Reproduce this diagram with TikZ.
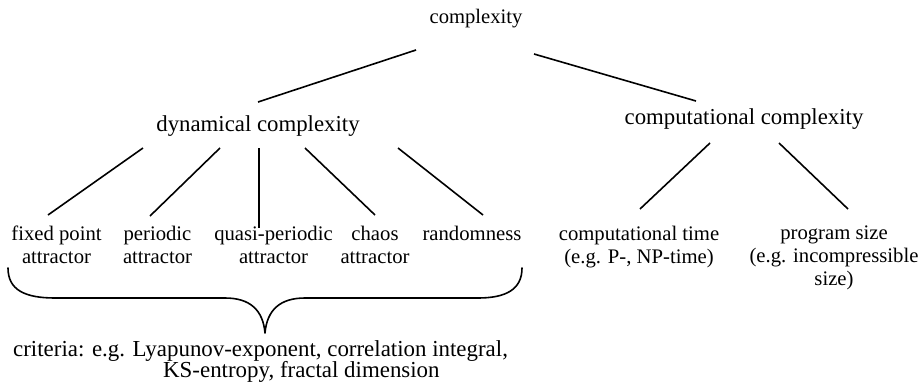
\documentclass[tikz,border=0pt]{standalone}
\usepackage{fontspec}
\setmainfont{Liberation Serif}
\begin{document}
\begin{tikzpicture}[x=1pt,y=-1pt,
  txt/.style={inner sep=0pt,anchor=base,align=center},
  rootlbl/.style={txt,font=\fontsize{20.6}{23}\selectfont},
  midlbl/.style={txt,font=\fontsize{22.8}{25}\selectfont},
  leaflbl/.style={txt,font=\fontsize{20.7}{23}\selectfont},
  critlbl/.style={inner sep=0pt,anchor=base west,align=left,font=\fontsize{22.9}{21.5}\selectfont},
  edge/.style={line width=1.6pt},
  bracepath/.style={line width=1.6pt,line cap=round,line join=round}]
\useasboundingbox (0,0) rectangle (918,383);

% labels (the base anchor of a multi-line label sits on its last line)
\node[rootlbl] (top) at (476,23) {complexity};
\node[midlbl] (dyn) at (258,131) {dynamical complexity};
\node[midlbl] (comp) at (744,124) {computational complexity};

\node[leaflbl] (fp) at (56.5,263) {fixed point\\attractor};
\node[leaflbl] (per) at (157.5,263) {periodic\\attractor};
\node[leaflbl] (qp) at (273.5,263) {quasi-periodic\\attractor};
\node[leaflbl] (chaos) at (375,263) {chaos\\attractor};
\node[leaflbl] (rand) at (472,240) {randomness};

\node[leaflbl] (ctime) at (639,263) {computational time\\(e.g. P-, NP-time)};
\node[leaflbl] (psize) at (834,285) {program size\\(e.g. incompressible\\size)};

\node[critlbl] (crit) at (13,377.5) {criteria: e.g. Lyapunov-exponent, correlation integral,\\\hspace*{150pt}KS-entropy, fractal dimension};

% tree edges
\draw[edge] ([shift={(-60,27)}]top.base) -- ([shift={(0,-29)}]dyn.base);
\draw[edge] ([shift={(58,31)}]top.base) -- ([shift={(-48,-23)}]comp.base);

\draw[edge] ([shift={(-115,17)}]dyn.base) -- ([shift={(-8.5,-48)}]fp.base);
\draw[edge] ([shift={(-38,17)}]dyn.base) -- ([shift={(-7.5,-47)}]per.base);
\draw[edge] ([shift={(1,17)}]dyn.base) -- ([shift={(-14.5,-35)}]qp.base);
\draw[edge] ([shift={(47,17)}]dyn.base) -- ([shift={(0,-48)}]chaos.base);
\draw[edge] ([shift={(140,17)}]dyn.base) -- ([shift={(11,-25)}]rand.base);

\draw[edge] ([shift={(-34,19)}]comp.base) -- ([shift={(1,-54)}]ctime.base);
\draw[edge] ([shift={(35,19)}]comp.base) -- ([shift={(14,-76)}]psize.base);

% brace gathering the dynamical cases
\coordinate (bl) at (8,268);
\coordinate (br) at (522,268);
\coordinate (tip) at (265,333);
\draw[bracepath] (bl) .. controls (8,290) and (25,298) .. (55,298)
  -- (225,298) .. controls (250,298) and (263,310) .. (tip)
  .. controls (267,310) and (280,298) .. (305,298)
  -- (478,298) .. controls (505,298) and (522,290) .. (br);
\end{tikzpicture}
\end{document}
